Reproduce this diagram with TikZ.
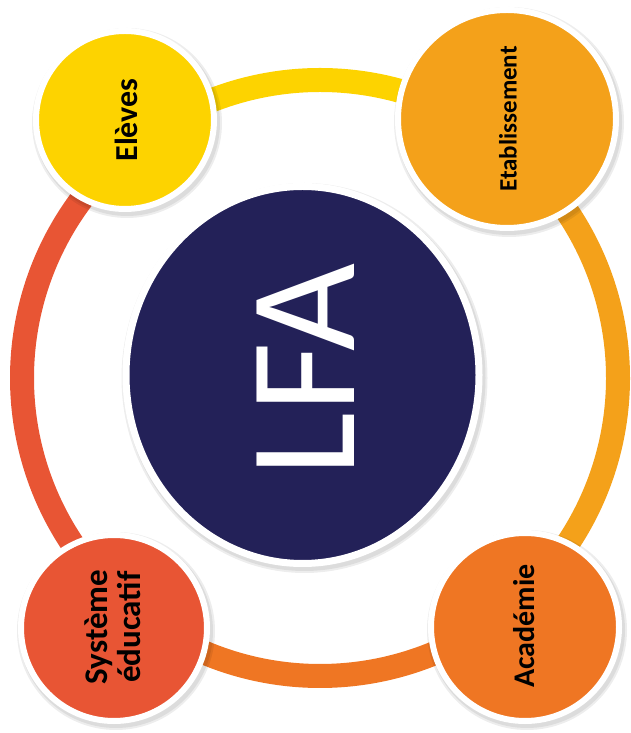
\documentclass[tikz,border=0pt]{standalone}
\usepackage{fontspec}
\setmainfont{Carlito}
\usetikzlibrary{shapes.geometric}
\definecolor{cNavy}{HTML}{232158}
\definecolor{cYellow}{HTML}{FDD300}
\definecolor{cGold}{HTML}{F4A11A}
\definecolor{cOrange}{HTML}{EF7623}
\definecolor{cRed}{HTML}{E85534}
\begin{document}
\begin{tikzpicture}[x=1pt,y=1pt,
  lbl/.style={rotate=90, font=\bfseries, text=black, align=center, inner sep=0pt},
  ringarc/.style={line width=24pt},
  bubble/.style={circle, draw=white, line width=6pt, inner sep=0pt},
  softshadow/.style={fill=black, opacity=0.07},
]
\useasboundingbox (0,0) rectangle (630,733);
\coordinate (rc) at (320,355);
% ring
\draw[ringarc, cYellow] ([shift={(128:298)}]rc) arc[start angle=128, end angle=52, radius=298];
\draw[ringarc, cGold]   ([shift={(54:298)}]rc) arc[start angle=54, end angle=-52, radius=298];
\draw[ringarc, cOrange] ([shift={(-50:298)}]rc) arc[start angle=-50, end angle=-128, radius=298];
\draw[ringarc, cRed]    ([shift={(-126:298)}]rc) arc[start angle=-126, end angle=-232, radius=298];
% shadows
\foreach \px/\py/\rr in {125/613/92, 507/614/112, 114/105/96, 525/106/97}{
  \fill[softshadow] (\px+2,\py-3) circle (\rr+3);
  \fill[softshadow] (\px+2,\py-3) circle (\rr+1);
}
\fill[softshadow] (304.5,355) ellipse (183 and 195);
\fill[softshadow] (304.5,355) ellipse (181 and 193);
% centre
\node[ellipse, fill=cNavy, draw=white, line width=7pt, inner sep=0pt,
      minimum width=353, minimum height=377] (lfa) at (302.5,358) {};
\node[rotate=90, text=white, font=\fontsize{152}{152}\selectfont, inner sep=0pt] (lfat) at (306,363) {LFA};
% bubbles
\node[bubble, fill=cYellow, minimum size=178] (eleves) at (125,613) {};
\node[lbl, font=\fontsize{32}{34}\selectfont\bfseries] (elevest) at (126,613) {Elèves};
\node[bubble, fill=cGold, minimum size=218] (etab) at (507,614) {};
\node[lbl, font=\fontsize{25}{27}\selectfont\bfseries] (etabt) at (508,614) {Etablissement};
\node[bubble, fill=cRed, minimum size=186] (sys) at (114,105) {};
\node[lbl, font=\fontsize{33}{33}\selectfont\bfseries] (syst) at (113,106) {Système\\éducatif};
\node[bubble, fill=cOrange, minimum size=188] (acad) at (525,106) {};
\node[lbl, font=\fontsize{30}{32}\selectfont\bfseries] (acadt) at (524,107) {Académie};
\end{tikzpicture}
\end{document}
